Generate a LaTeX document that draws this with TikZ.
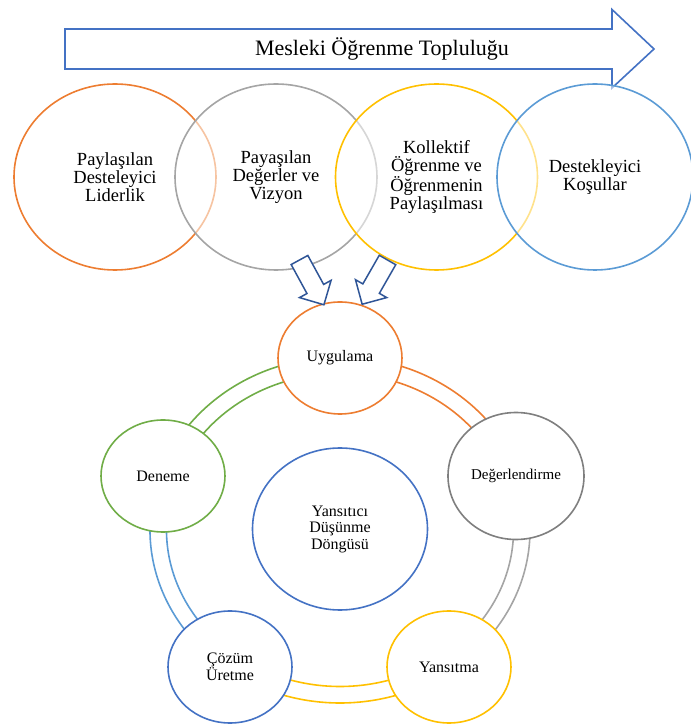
\documentclass[tikz,border=0pt]{standalone}
\usepackage{fontspec}
\setmainfont{Liberation Serif}
\usetikzlibrary{shapes.geometric,backgrounds}
\definecolor{cOrange}{HTML}{ED7D31}
\definecolor{cGray}{HTML}{A5A5A5}
\definecolor{cDGray}{HTML}{7F7F7F}
\definecolor{cYellow}{HTML}{FFC000}
\definecolor{cLBlue}{HTML}{5B9BD5}
\definecolor{cBlue}{HTML}{4472C4}
\definecolor{cGreen}{HTML}{70AD47}
\definecolor{cNavy}{HTML}{2F5597}
\begin{document}
\begin{tikzpicture}[x=1pt,y=1pt,
  topcirc/.style={ellipse, draw=#1, line width=1.6pt, fill=white, fill opacity=0.55, text opacity=1,
    minimum width=202pt, minimum height=186pt, inner sep=0pt, align=center,
    font=\fontsize{18.5}{18}\selectfont},
  cyc/.style={ellipse, draw=#1, line width=1.6pt, fill=white, minimum width=124pt, minimum height=112pt,
    inner sep=0pt, align=center, font=\fontsize{16}{16.5}\selectfont},
  ring/.style={draw=#1, line width=1.6pt},
  blockarr/.style={draw=cNavy, line width=1.5pt, fill=white, line join=miter}]
\useasboundingbox (0,0) rectangle (691,724);

% top banner arrow
\draw[line width=1.6pt, draw=cBlue, fill=white, line join=miter]
  (65,655) -- (612,655) -- (612,636) -- (654,675) -- (612,714.5) -- (612,695) -- (65,695) -- cycle;
\node (title) at (382,675) {\fontsize{22}{22}\selectfont Mesleki Öğrenme Topluluğu};

% top circles
\node[topcirc=cOrange] (lid) at (115,547) {Paylaşılan\\Desteleyici\\Liderlik};
\node[topcirc=cGray] (deg) at (276,547) {Payaşılan\\Değerler ve\\Vizyon};
\node[topcirc=cYellow] (kol) at (436.5,547) {Kollektif\\Öğrenme ve\\Öğrenmenin\\Paylaşılması};
\node[topcirc=cLBlue, minimum width=196pt] (kos) at (595,547) {Destekleyici\\Koşullar};

% cycle nodes
\node[cyc=cOrange] (uyg) at (340,366) {Uygulama};
\node[cyc=cDGray, minimum width=136pt, minimum height=127pt, font=\fontsize{15}{15}\selectfont] (dgr) at (516,248) {Değerlendirme};
\node[cyc=cYellow] (yan) at (449,57) {Yansıtma};
\node[cyc=cBlue] (coz) at (230,57) {Çözüm\\Üretme};
\node[cyc=cGreen] (den) at (163,248) {Deneme};
\node[cyc=cBlue, minimum width=175pt, minimum height=162pt] (yd) at (340,195) {Yansıtıcı\\Düşünme\\Döngüsü};

% ring connectors
\coordinate (C) at (340,194);
\begin{scope}[on background layer]
\foreach \s/\e/\c in {90/18/cOrange, 18/-54/cGray, -54/-126/cYellow, -126/-198/cLBlue, 162/90/cGreen} {
  \draw[ring=\c] ([shift={(\s:190 and 173)}]C) arc[start angle=\s, end angle=\e, x radius=190, y radius=173];
  \draw[ring=\c] ([shift={(\s:173.5 and 156.5)}]C) arc[start angle=\s, end angle=\e, x radius=173.5, y radius=156.5];
}
\end{scope}

% block arrows
\begin{scope}[shift={(299.5,464)}, rotate=-61.4]
\draw[blockarr] (0,-9.5) -- (33,-9.5) -- (33,-18) -- (51,0) -- (33,18) -- (33,9.5) -- (0,9.5) -- cycle;
\end{scope}
\begin{scope}[shift={(387.5,464)}, rotate=-119.8]
\draw[blockarr] (0,-9.5) -- (33,-9.5) -- (33,-18) -- (51,0) -- (33,18) -- (33,9.5) -- (0,9.5) -- cycle;
\end{scope}
\end{tikzpicture}
\end{document}
